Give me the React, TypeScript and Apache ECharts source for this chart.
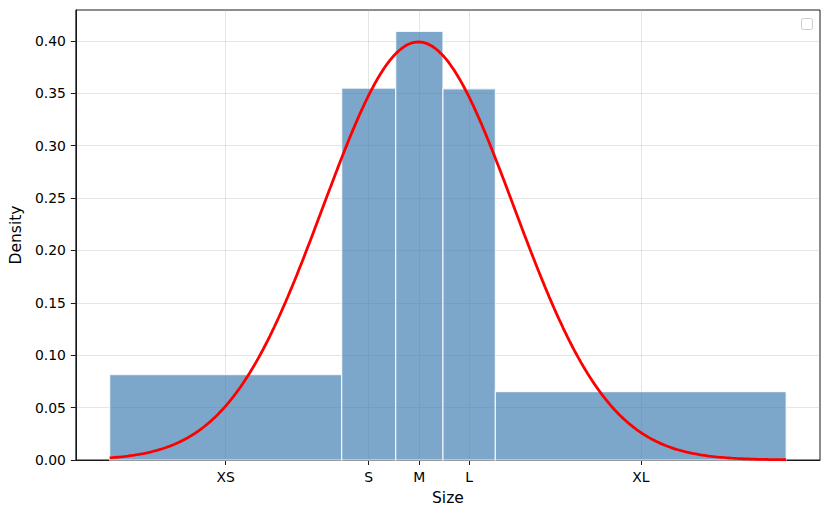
import React, { useEffect, useRef } from "react";
import * as echarts from "echarts";

// ---- data ----
const sizeLabels = ["XS", "S", "M", "L", "XL"];
const binEdges = [-3.241, -0.806, -0.239, 0.257, 0.807, 3.859];
const densities = [0.0816, 0.3548, 0.409, 0.3542, 0.0652];
const fitMean = 0.0;
const fitStd = 1.0;
const yTicks = [0, 0.05, 0.1, 0.15, 0.2, 0.25, 0.3, 0.35, 0.4];

const FONT = "DejaVu Sans";

function normalPdf(x: number, mu: number, sd: number) {
  const z = (x - mu) / sd;
  return Math.exp(-0.5 * z * z) / (sd * Math.sqrt(2 * Math.PI));
}

export default function App() {
  const ref = useRef<HTMLDivElement>(null);

  useEffect(() => {
    if (!ref.current) return;
    const chart = echarts.init(ref.current, undefined, { renderer: "svg" });

    const bins = densities.map((d, i) => [binEdges[i], binEdges[i + 1], d]);
    const centers = densities.map((_, i) => (binEdges[i] + binEdges[i + 1]) / 2);
    const lo = binEdges[0];
    const hi = binEdges[binEdges.length - 1];
    const pad = (hi - lo) * 0.05;
    const yMax = Math.max(...densities) * 1.05;

    const curve: number[][] = [];
    const n = 300;
    for (let i = 0; i <= n; i++) {
      const x = lo + ((hi - lo) * i) / n;
      curve.push([x, normalPdf(x, fitMean, fitStd)]);
    }

    const labelFor = (v: number) => {
      let best = 0;
      let bd = Infinity;
      centers.forEach((c, i) => {
        const d = Math.abs(c - v);
        if (d < bd) {
          bd = d;
          best = i;
        }
      });
      return sizeLabels[best];
    };

    chart.setOption({
      animation: false,
      grid: {
        left: 73,
        right: 10,
        top: 10,
        bottom: 55,
        show: true,
        borderColor: "#1a1a1a",
        borderWidth: 1,
        backgroundColor: "transparent",
      },
      xAxis: {
        type: "value",
        min: lo - pad,
        max: hi + pad,
        name: "Size",
        nameLocation: "middle",
        nameGap: 30,
        nameTextStyle: { fontFamily: FONT, fontSize: 15.5, color: "#000" },
        axisLine: { show: true, onZero: false, lineStyle: { color: "#1a1a1a", width: 1 } },
        axisTick: {
          show: true,
          length: 5,
          lineStyle: { color: "#1a1a1a", width: 1 },
          customValues: centers,
        },
        axisLabel: {
          customValues: centers,
          formatter: (v: number) => labelFor(v),
          margin: 10,
          fontFamily: FONT,
          fontSize: 13.9,
          color: "#000",
        },
        splitLine: {
          show: true,
          lineStyle: { color: "#b0b0b0", opacity: 0.33, width: 1 },
        },
      },
      yAxis: {
        type: "value",
        min: 0,
        max: yMax,
        name: "Density",
        nameLocation: "middle",
        nameGap: 45,
        nameTextStyle: { fontFamily: FONT, fontSize: 15.5, color: "#000" },
        axisLine: { show: true, onZero: false, lineStyle: { color: "#1a1a1a", width: 1 } },
        axisTick: {
          show: true,
          length: 5,
          lineStyle: { color: "#1a1a1a", width: 1 },
          customValues: yTicks,
        },
        axisLabel: {
          customValues: yTicks,
          formatter: (v: number) => v.toFixed(2),
          margin: 10,
          fontFamily: FONT,
          fontSize: 13.9,
          color: "#000",
        },
        splitLine: {
          show: true,
          lineStyle: { color: "#b0b0b0", opacity: 0.33, width: 1 },
        },
      },
      graphic: [
        {
          type: "rect",
          left: 801,
          top: 18,
          shape: { width: 11, height: 11, r: 2 },
          style: { fill: "#fff", stroke: "#cccccc", lineWidth: 1 },
          z: 100,
        },
      ],
      series: [
        {
          type: "custom",
          data: bins,
          encode: { x: [0, 1], y: 2 },
          silent: true,
          z: 2,
          renderItem: (params: any, api: any) => {
            const x0 = api.value(0);
            const x1 = api.value(1);
            const h = api.value(2);
            const p0 = api.coord([x0, h]);
            const p1 = api.coord([x1, 0]);
            return {
              type: "rect",
              shape: {
                x: p0[0],
                y: p0[1],
                width: p1[0] - p0[0],
                height: p1[1] - p0[1],
              },
              style: {
                fill: "rgba(70,130,180,0.7)",
                stroke: "rgba(255,255,255,0.75)",
                lineWidth: 1.3,
              },
            };
          },
        },
        {
          type: "line",
          data: curve,
          showSymbol: false,
          symbol: "none",
          silent: true,
          z: 3,
          lineStyle: { color: "#ff0000", width: 2.8 },
        },
      ],
    });

    return () => chart.dispose();
  }, []);

  return (
    <div
      ref={ref}
      style={{ position: "absolute", left: 0, top: 0, width: 830, height: 515 }}
    />
  );
}
